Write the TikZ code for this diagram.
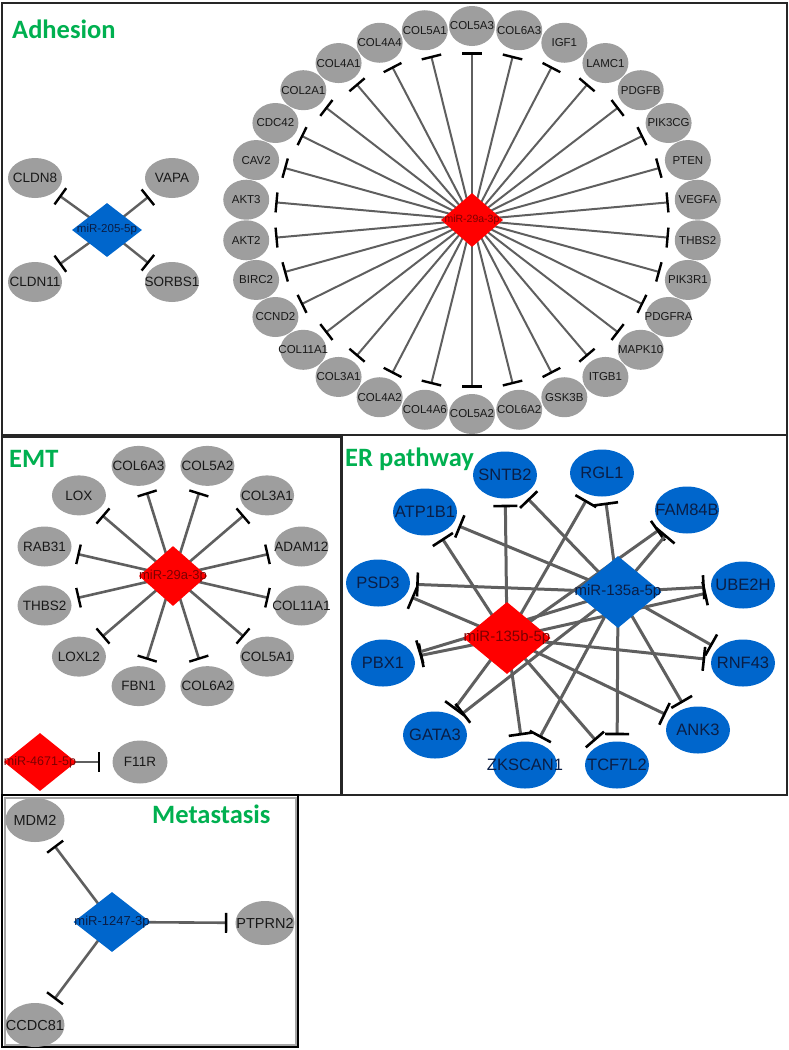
\documentclass[tikz,border=0pt]{standalone}
\usepackage{fontspec}
\setmainfont{Liberation Sans}
\newfontfamily\titlefont{Carlito}
\usetikzlibrary{shapes.geometric,arrows.meta,backgrounds}

\definecolor{genegray}{RGB}{158,158,158}
\definecolor{edgegray}{RGB}{95,95,95}
\definecolor{mirred}{RGB}{255,0,0}
\definecolor{mirblue}{RGB}{0,102,204}
\definecolor{titlegreen}{RGB}{0,176,80}
\definecolor{darkred}{RGB}{125,0,0}
\definecolor{darknavy}{RGB}{10,30,70}
\definecolor{genetext}{RGB}{25,25,25}

\newcommand{\setfs}[1]{\fontsize{#1}{#1}\selectfont}

\begin{document}
\begin{tikzpicture}[
	x=1pt, y=-1pt,
	every label/.style = {inner sep=0pt},
	gene/.style = {ellipse, fill=genegray, inner sep=0pt, text=genetext,
		minimum width=46pt, minimum height=40pt, font=\setfs{11.5},
		execute at begin node={\hbox to 0pt\bgroup\hss}, execute at end node={\hss\egroup}},
	emtgene/.style = {gene, minimum width=54pt, minimum height=40pt, font=\setfs{13.5}},
	ergene/.style = {gene, fill=mirblue, text=darknavy,
		minimum width=64pt, minimum height=47pt, font=\setfs{16.5}},
	mir/.style = {diamond, inner sep=0pt},
	inhib/.style = {draw=edgegray, line width=2pt, shorten >=6pt,
		-{Bar[width=20pt, line width=2.4pt, color=black]}},
	erinhib/.style = {inhib, line width=3pt, -{Bar[width=24pt, line width=2.6pt, color=black]}},
	title/.style = {anchor=base west, inner sep=0pt, text=titlegreen, font=\titlefont\bfseries\setfs{26.5}},
	panel/.style = {draw=black!85, line width=1.4pt},
]
	\useasboundingbox (0,0) rectangle (789,1050);

	% panels
	\draw[panel] (2,3) rectangle (787,435);
	\draw[panel] (2,437) rectangle (341,795);
	\draw[panel] (342,435) rectangle (787,795);
	\draw[draw=black, line width=1.2pt] (2,795) rectangle (298,1047);
	\draw[draw=black!35, line width=2pt] (4.5,797.5) rectangle (295.5,1044.5);

	\node[title] (tadh) at (12,38) {Adhesion};
	\node[title] (temt) at (9,467) {EMT};
	\node[title] (ter) at (345,466) {ER pathway};
	\node[title] (tmet) at (152,823) {Metastasis};

	% Adhesion: miR-205-5p
	\node[mir, fill=mirblue, minimum width=70pt, minimum height=54pt,
		label={[text=darknavy, font=\setfs{11.5}]center:miR-205-5p}] (m205) at (107,230) {};
	\foreach \gname/\gx/\gy in {CLDN8/35/178, VAPA/172/178, CLDN11/35/282, SORBS1/172/282}{%
		\node[emtgene] (\gname) at (\gx,\gy) {\gname};
	}

	% Adhesion: miR-29a-3p ring
	\node[mir, fill=mirred, minimum width=62pt, minimum height=54pt,
		label={[text=darkred, font=\setfs{10.5}]center:miR-29a-3p}] (m29adh) at (472,220) {};
	\foreach \gname [count=\i from 0] in {COL5A3, COL6A3, IGF1, LAMC1, PDGFB, PIK3CG, PTEN, VEGFA,
			THBS2, PIK3R1, PDGFRA, MAPK10, ITGB1, GSK3B, COL6A2, COL5A2, COL4A6, COL4A2,
			COL3A1, COL11A1, CCND2, BIRC2, AKT2, AKT3, CAV2, CDC42, COL2A1, COL4A1, COL4A4, COL5A1}{%
		\node[gene] (adh\i) at ({472+227*cos(90-12*\i)}, {220-194*sin(90-12*\i)}) {\gname};
	}

	% EMT
	\node[mir, fill=mirred, minimum width=68pt, minimum height=60pt,
		label={[text=darkred, font=\setfs{13}]center:miR-29a-3p}] (m29emt) at (173,576) {};
	\foreach \gname [count=\i from 0] in {COL6A3, COL5A2, COL3A1, ADAM12, COL11A1, COL5A1,
			COL6A2, FBN1, LOXL2, THBS2, RAB31, LOX}{%
		\node[emtgene] (emt\i) at ({173+133*cos(105-30*\i)}, {576-114*sin(105-30*\i)}) {\gname};
	}
	\node[mir, fill=mirred, minimum width=72pt, minimum height=58pt,
		label={[text=darkred, font=\setfs{12.5}]center:miR-4671-5p}] (m4671) at (40,762) {};
	\node[emtgene, minimum width=55pt, minimum height=43pt] (F11R) at (140,762) {F11R};

	% ER pathway
	\foreach \gname/\gx/\gy in {SNTB2/505/475, RGL1/602/473, ATP1B1/425/512, FAM84B/687/510,
			PSD3/378/583, UBE2H/743/585, PBX1/383/663, RNF43/743/663,
			GATA3/435/735, ANK3/698/730, ZKSCAN1/525/765, TCF7L2/617/765}{%
		\node[ergene] (\gname) at (\gx,\gy) {\gname};
	}
	\node[mir, fill=mirblue, minimum width=87pt, minimum height=72pt,
		label={[text=darknavy, font=\setfs{15}]center:miR-135a-5p}] (m135a) at (618,592) {};
	\node[mir, fill=mirred, minimum width=87pt, minimum height=72pt,
		label={[text=darkred, font=\setfs{15}]center:miR-135b-5p}] (m135b) at (507,638) {};

	% Metastasis
	\node[mir, fill=mirblue, minimum width=77pt, minimum height=60pt,
		label={[text=darknavy, font=\setfs{13}]center:miR-1247-3p}] (m1247) at (112,922) {};
	\foreach \gname/\gx/\gy in {MDM2/35/820, PTPRN2/265/923, CCDC81/35/1025}{%
		\node[gene, minimum width=59pt, minimum height=44pt, font=\setfs{14.5}] (\gname) at (\gx,\gy) {\gname};
	}

	% edges
	\begin{scope}[on background layer]
		\foreach \gname in {CLDN8, VAPA, CLDN11, SORBS1}
			\draw[inhib, line width=2.4pt] (m205.center) -- (\gname);
		\foreach \i in {0,...,29}
			\draw[inhib] (m29adh.center) -- (adh\i);
		\foreach \i in {0,...,11}
			\draw[inhib, line width=2.6pt, shorten >=7pt] (m29emt.center) -- (emt\i);
		\draw[inhib, line width=2.6pt, shorten >=12pt] (m4671.center) -- (F11R);
		\foreach \gname in {SNTB2, RGL1, ATP1B1, FAM84B, PSD3, UBE2H, PBX1, RNF43, GATA3, ANK3, ZKSCAN1, TCF7L2}{%
			\draw[erinhib] (m135b.center) -- (\gname);
			\draw[erinhib] (m135a.center) -- (\gname);
		}
		\foreach \gname in {MDM2, PTPRN2, CCDC81}
			\draw[inhib, line width=2.6pt, shorten >=8pt] (m1247.center) -- (\gname);
	\end{scope}
\end{tikzpicture}
\end{document}
